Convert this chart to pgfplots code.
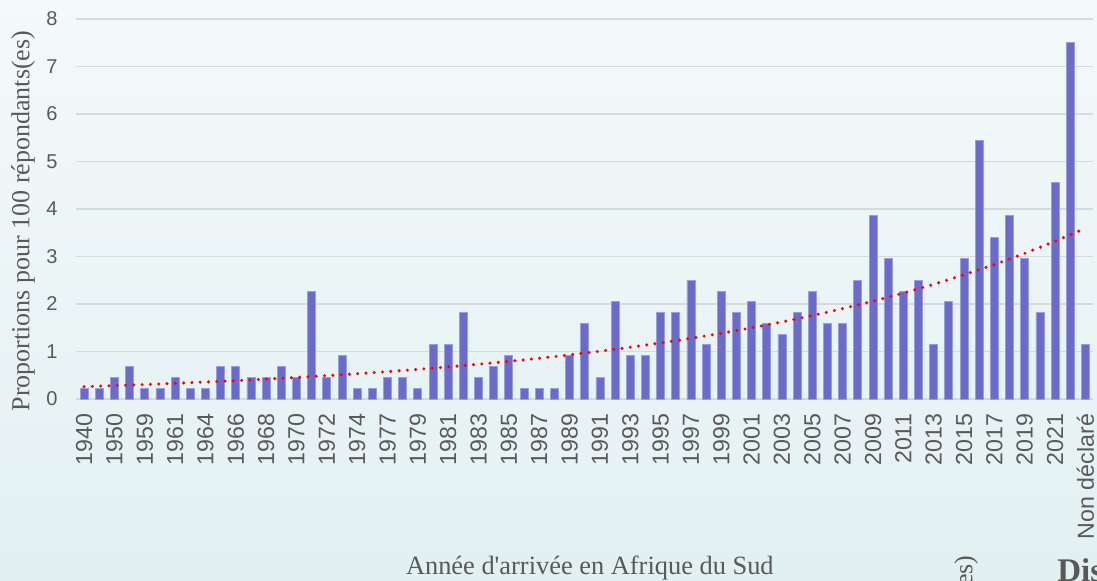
\documentclass[border=0pt]{standalone}
\usepackage{fontspec}
\setmainfont{Liberation Serif}
\newfontfamily\serifp{Liberation Serif}
\newfontfamily\arialf{Liberation Sans}
\usepackage{pgfplots}
\usepackage{pgfplotstable}
\pgfplotsset{compat=1.18}
\definecolor{bg1}{HTML}{F4F9FB}
\definecolor{bg2}{HTML}{E2F0F1}
\definecolor{barc}{HTML}{6B6BCD}
\definecolor{bard}{HTML}{9C9CE0}
\definecolor{gridc}{HTML}{D9D9D9}
\definecolor{txt}{HTML}{595959}

\pgfplotstableread{
x y
0 0.23
1 0.23
2 0.45
3 0.68
4 0.23
5 0.23
6 0.45
7 0.23
8 0.23
9 0.68
10 0.68
11 0.45
12 0.45
13 0.68
14 0.45
15 2.27
16 0.45
17 0.91
18 0.23
19 0.23
20 0.45
21 0.45
22 0.23
23 1.14
24 1.14
25 1.82
26 0.45
27 0.68
28 0.91
29 0.23
30 0.23
31 0.23
32 0.91
33 1.59
34 0.45
35 2.05
36 0.91
37 0.91
38 1.82
39 1.82
40 2.50
41 1.14
42 2.27
43 1.82
44 2.05
45 1.59
46 1.36
47 1.82
48 2.27
49 1.59
50 1.59
51 2.50
52 3.86
53 2.95
54 2.27
55 2.50
56 1.14
57 2.05
58 2.95
59 5.45
60 3.41
61 3.86
62 2.95
63 1.82
64 4.55
65 7.50
66 1.14
}\bars

\pgfplotstableread{
x y
0 0.260
1 0.271
2 0.282
3 0.293
4 0.305
5 0.317
6 0.330
7 0.344
8 0.358
9 0.372
10 0.387
11 0.403
12 0.419
13 0.436
14 0.454
15 0.472
16 0.492
17 0.512
18 0.532
19 0.554
20 0.576
21 0.600
22 0.624
23 0.649
24 0.676
25 0.703
26 0.732
27 0.762
28 0.792
29 0.825
30 0.858
31 0.893
32 0.929
33 0.967
34 1.006
35 1.047
36 1.090
37 1.134
38 1.180
39 1.228
40 1.278
41 1.330
42 1.383
43 1.440
44 1.498
45 1.559
46 1.622
47 1.688
48 1.757
49 1.828
50 1.902
51 1.980
52 2.060
53 2.144
54 2.231
55 2.321
56 2.415
57 2.514
58 2.616
59 2.722
60 2.832
61 2.947
62 3.067
63 3.192
64 3.321
65 3.456
66 3.596
}\trend

\begin{document}
\begin{tikzpicture}
\path[use as bounding box] (0pt,0pt) rectangle (548.5pt,290.5pt);
\shade[top color=bg1, bottom color=bg2] (0pt,0pt) rectangle (548.5pt,290.5pt);
\begin{axis}[
  at={(38.25pt,91pt)}, anchor=south west,
  scale only axis, width=508.25pt, height=190pt,
  xmin=-0.5, xmax=66.5, ymin=0, ymax=8,
  ytick={0,1,...,8},
  xtick={0,2,...,66},
  xticklabels={1940,1950,1959,1961,1964,1966,1968,1970,1972,1974,1977,1979,1981,1983,1985,1987,1989,1991,1993,1995,1997,1999,2001,2003,2005,2007,2009,2011,2013,2015,2017,2019,2021,Non déclaré},
  separate axis lines,
  axis x line*=bottom, axis y line*=left,
  x axis line style={draw=gridc, line width=0.8pt, -},
  y axis line style={draw=none},
  major tick length=0pt,
  ymajorgrids, grid style={draw=gridc, line width=0.75pt},
  /pgf/number format/assume math mode=true,
  yticklabel style={font=\arialf\fontsize{10}{12}\selectfont, text=txt, anchor=east, inner sep=0pt, xshift=-9.25pt},
  xticklabel style={font=\arialf\fontsize{11.6}{13}\selectfont, text=txt, rotate=90, anchor=east, inner sep=0pt, outer sep=7.5pt},
  xlabel={Année d'arrivée en Afrique du Sud},
  ylabel={Proportions pour 100 répondants(es)},
  xlabel style={at={(axis description cs:0.505,-0.4447)}, anchor=center, font=\serifp\fontsize{13.2}{15}\selectfont, text=txt},
  ylabel style={at={(axis description cs:-0.0526,0.468)}, anchor=center, font=\fontsize{13}{15}\selectfont, text=txt},
  clip=false,
]
\addplot[ybar, bar width=4pt, fill=barc, draw=bard, line width=0.4pt] table[x=x,y=y]{\bars};
\addplot[red, line width=1.7pt, line cap=round, dash pattern=on 0pt off 4.15pt, no marks] table[x=x,y=y]{\trend};
\end{axis}
\begin{scope}
\clip (0pt,0pt) rectangle (548.5pt,290.5pt);
\node[rotate=90, anchor=east, inner sep=0pt, text=txt, font=\fontsize{13}{15}\selectfont] at (483pt,13pt) {Proportions pour 100 répondants(es)};
\node[anchor=base west, inner sep=0pt, text=txt, font=\bfseries\fontsize{16.5}{18}\selectfont] at (528.5pt,-0.5pt) {Distribution};
\end{scope}
\end{tikzpicture}
\end{document}
